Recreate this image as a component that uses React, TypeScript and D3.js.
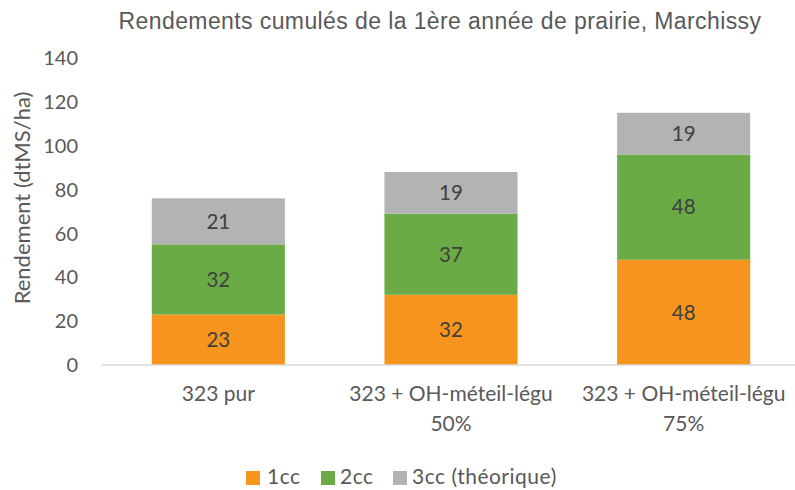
import React from "react";
import * as d3 from "d3";

const categories = ["323 pur", "323 + OH-méteil-légu 50%", "323 + OH-méteil-légu 75%"];
const categoryLines = [["323 pur"], ["323 + OH-méteil-légu", "50%"], ["323 + OH-méteil-légu", "75%"]];
const seriesNames = ["1cc", "2cc", "3cc (théorique)"];
const cc1 = [23, 32, 48];
const cc2 = [32, 37, 48];
const cc3 = [21, 19, 19];
const yTicks = [0, 20, 40, 60, 80, 100, 120, 140];
const colors = ["#F7941D", "#6AAB45", "#B3B3B3"];

const W = 795, H = 490;
const margin = { left: 102, right: -5, top: 58, bottom: 125 };

export default function App() {
  const x = d3.scaleBand().domain(categories).range([margin.left, W - margin.right]).paddingInner(0.428).paddingOuter(0.214);
  const y = d3.scaleLinear().domain([0, 140]).range([H - margin.bottom, margin.top]);
  const rows = categories.map((c, i) => ({ cat: c, "1cc": cc1[i], "2cc": cc2[i], "3cc (théorique)": cc3[i] }));
  const stack = d3.stack().keys(seriesNames)(rows as any);
  const font = "Lato, 'Open Sans', sans-serif";
  const textColor = "#595959";
  const legendX = [246, 321, 393];
  const legendTextX = [267, 340, 412];
  return (
    <svg width={W} height={H} style={{ position: "absolute", left: 0, top: 0 }} fontFamily={font}>
      <rect width={W} height={H} fill="#fff" />
      <text x={440} y={29} textAnchor="middle" fontSize={23} letterSpacing={0.4} fill={textColor} fontFamily="'Liberation Sans', Arial, sans-serif">
        Rendements cumulés de la 1ère année de prairie, Marchissy
      </text>
      {yTicks.map(t => (
        <text key={t} x={78} y={y(t)} dy="0.36em" textAnchor="end" fontSize={20} fill={textColor}>{t}</text>
      ))}
      <text transform={`translate(30,198) rotate(-90)`} textAnchor="middle" fontSize={22} fill={textColor}>
        Rendement (dtMS/ha)
      </text>
      {stack.map((s, si) => (
        <g key={si}>
          {s.map((d, i) => (
            <g key={i}>
              <rect x={x(categories[i])} width={x.bandwidth()} y={y(d[1])} height={y(d[0]) - y(d[1])} fill={colors[si]} />
              <text x={(x(categories[i]) as number) + x.bandwidth() / 2} y={(y(d[0]) + y(d[1])) / 2} dy="0.36em" textAnchor="middle" fontSize={20.5} fill="#404040">
                {d[1] - d[0]}
              </text>
            </g>
          ))}
        </g>
      ))}
      <line x1={margin.left} x2={W} y1={y(0)} y2={y(0)} stroke="#D9D9D9" strokeWidth={1.5} />
      {categoryLines.map((lines, i) => (
        <text key={i} x={(x(categories[i]) as number) + x.bandwidth() / 2} y={401} textAnchor="middle" fontSize={21} fill={textColor}>
          {lines.map((l, j) => (
            <tspan key={j} x={(x(categories[i]) as number) + x.bandwidth() / 2} dy={j === 0 ? 0 : 30}>{l}</tspan>
          ))}
        </text>
      ))}
      {seriesNames.map((n, i) => (
        <g key={n}>
          <rect x={legendX[i]} y={471} width={14} height={14} fill={colors[i]} />
          <text x={legendTextX[i]} y={484} fontSize={21} letterSpacing={0.5} fill={textColor}>{n}</text>
        </g>
      ))}
    </svg>
  );
}
